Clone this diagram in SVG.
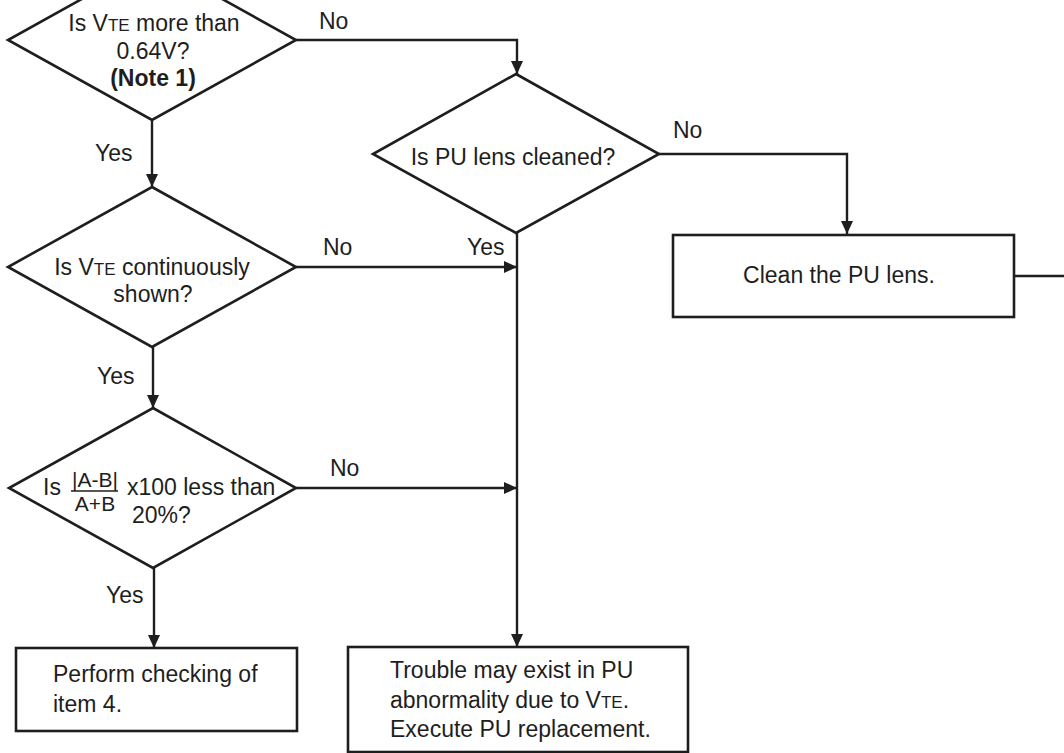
<svg xmlns="http://www.w3.org/2000/svg" width="1064" height="753" viewBox="0 0 1064 753">
<defs>
<marker id="arr" markerUnits="userSpaceOnUse" markerWidth="14" markerHeight="12" refX="13" refY="6" orient="auto">
<path d="M0,0 L13,6 L0,12 z" fill="#1e1e1e"/>
</marker>
<style>
.sh{fill:#fff;stroke:#1e1e1e;stroke-width:2.6;stroke-linejoin:miter}
.ln{fill:none;stroke:#1e1e1e;stroke-width:2.4}
.t{font-family:"Liberation Sans",Arial,Helvetica,sans-serif;font-size:23px;fill:#1e1e1e}
.c{text-anchor:middle}
.b{font-weight:bold}
.sc{font-size:17px}
</style>
</defs>
<rect x="0" y="0" width="1064" height="753" fill="#fff"/>

<g id="connectors">
<path class="ln" d="M152,120 V187" marker-end="url(#arr)"/>
<path class="ln" d="M296,40 H517 V74" marker-end="url(#arr)"/>
<path class="ln" d="M659,154 H847 V234" marker-end="url(#arr)"/>
<path class="ln" d="M1014,276 H1064"/>
<path class="ln" d="M153,347 V408" marker-end="url(#arr)"/>
<path class="ln" d="M296,267 H517" marker-end="url(#arr)"/>
<path class="ln" d="M517,233 V647" marker-end="url(#arr)"/>
<path class="ln" d="M296,488 H517" marker-end="url(#arr)"/>
<path class="ln" d="M154,568 V648" marker-end="url(#arr)"/>
<text class="t" x="319" y="29">No</text>
<text class="t" x="95" y="161">Yes</text>
<text class="t" x="673" y="138">No</text>
<text class="t" x="323" y="255">No</text>
<text class="t" x="467" y="255">Yes</text>
<text class="t" x="97" y="384">Yes</text>
<text class="t" x="330" y="476">No</text>
<text class="t" x="106" y="603">Yes</text>
</g>

<g id="d1">
<polygon class="sh" points="152,-40 296,40 152,120 8,40"/>
<text class="t c" x="154" y="31">Is V<tspan class="sc">TE</tspan> more than</text>
<text class="t c" x="153" y="59">0.64V?</text>
<text class="t c b" x="153" y="86">(Note 1)</text>
</g>

<g id="d2">
<polygon class="sh" points="152,187 296,267 152,347 8,267"/>
<text class="t c" x="152" y="275">Is V<tspan class="sc">TE</tspan> continuously</text>
<text class="t c" x="153" y="302">shown?</text>
</g>

<g id="d3">
<polygon class="sh" points="516,74 659,154 516,233 373,154"/>
<text class="t c" x="513" y="165">Is PU lens cleaned?</text>
</g>

<g id="d4">
<polygon class="sh" points="153,408 296,488 153,568 9,488"/>
<text class="t" x="43" y="495">Is</text>
<text class="t c" x="95" y="487" style="font-size:21px">|A-B|</text>
<line x1="71" y1="491" x2="118" y2="491" stroke="#1e1e1e" stroke-width="1.5"/>
<text class="t c" x="95" y="511" style="font-size:21px">A+B</text>
<text class="t" x="127" y="495">x100 less than</text>
<text class="t" x="132" y="523">20%?</text>
</g>

<g id="clean">
<rect class="sh" x="673" y="235" width="341" height="82"/>
<text class="t c" x="839" y="283">Clean the PU lens.</text>
</g>

<g id="perform">
<rect class="sh" x="16" y="648" width="281" height="83"/>
<text class="t" x="53" y="682">Perform checking of</text>
<text class="t" x="53" y="712">item 4.</text>
</g>

<g id="trouble">
<rect class="sh" x="348" y="647" width="340" height="105"/>
<text class="t" x="390" y="678">Trouble may exist in PU</text>
<text class="t" x="390" y="708">abnormality due to V<tspan class="sc">TE</tspan>.</text>
<text class="t" x="390" y="737">Execute PU replacement.</text>
</g>
</svg>
